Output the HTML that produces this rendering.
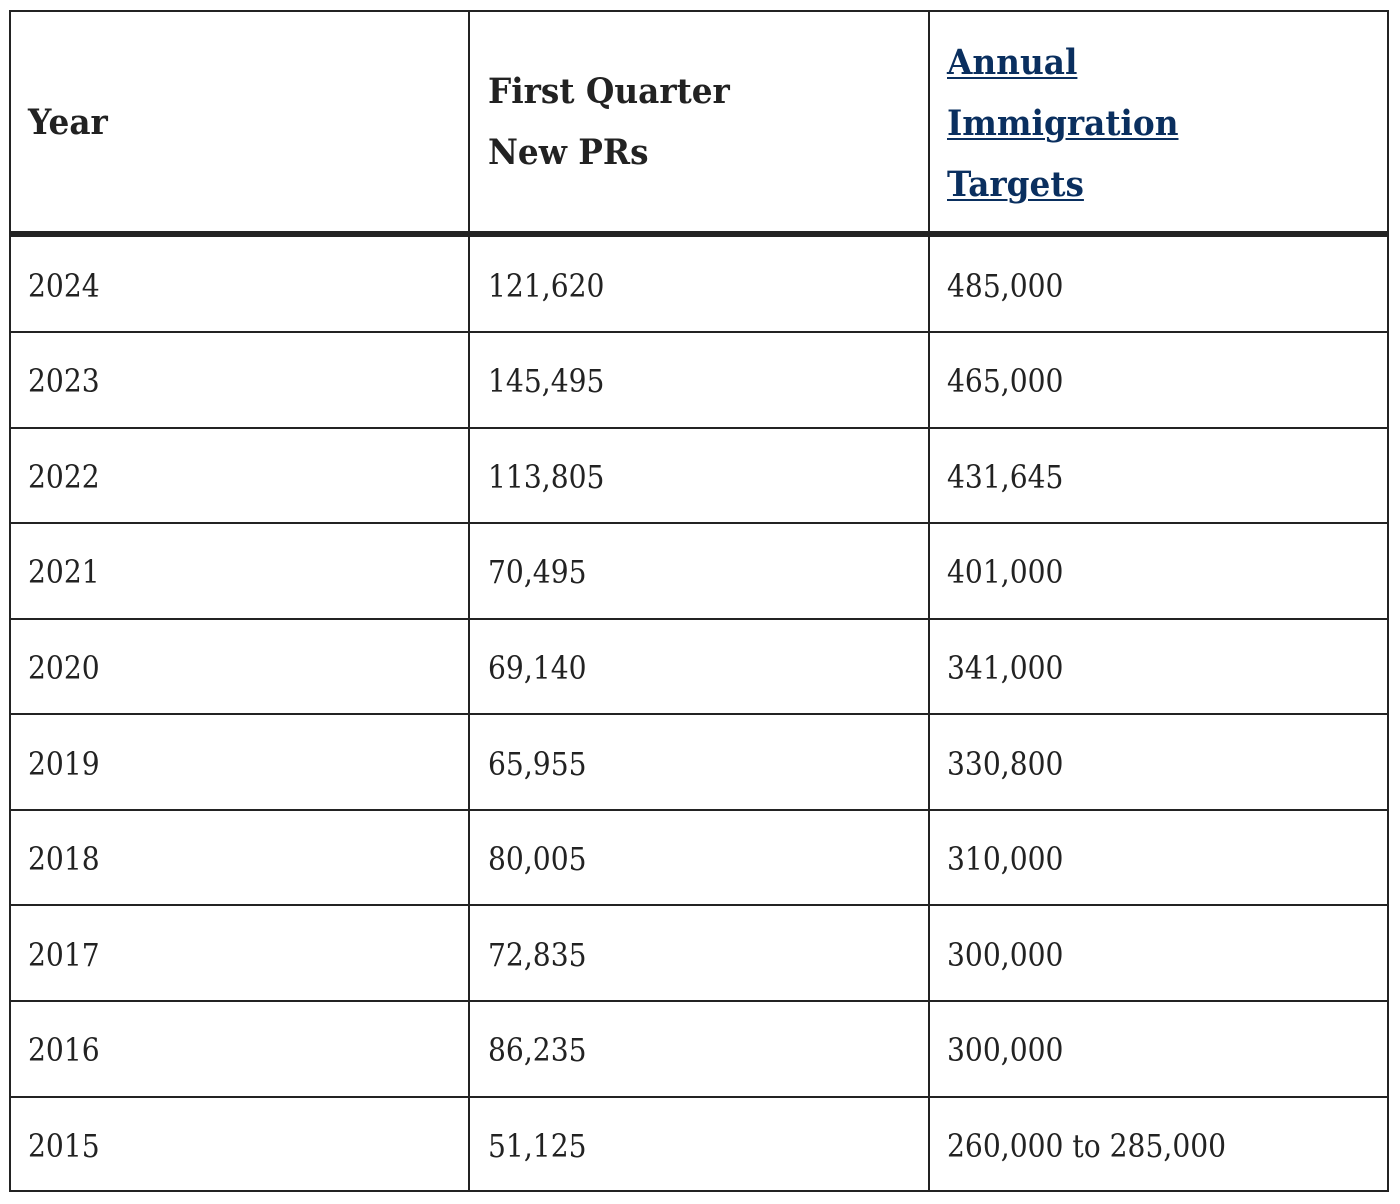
<!DOCTYPE html>
<html><head><meta charset="utf-8"><style>
html,body{margin:0;padding:0;background:#fff;}
body{width:1400px;height:1204px;position:relative;overflow:hidden;font-family:"DejaVu Serif","Liberation Serif",serif;color:#222;}
.l{position:absolute;background:#232323;}
.t{position:absolute;white-space:nowrap;font-size:32px;line-height:40px;transform:scaleX(0.88);transform-origin:0 0;}
.h{position:absolute;white-space:nowrap;font-size:35px;line-height:61px;font-weight:bold;transform:scaleX(0.935);transform-origin:0 0;}
.h a{color:#0a2f5f;text-decoration:underline;text-decoration-thickness:2px;text-underline-offset:3px;}
</style></head><body>
<!-- borders -->
<div class="l" style="left:9px;top:10px;width:1380px;height:2px"></div>
<div class="l" style="left:9px;top:1190px;width:1380px;height:2px"></div>
<div class="l" style="left:9px;top:10px;width:2px;height:1182px"></div>
<div class="l" style="left:1387px;top:10px;width:2px;height:1182px"></div>
<div class="l" style="left:468px;top:10px;width:2px;height:1182px"></div>
<div class="l" style="left:928px;top:10px;width:2px;height:1182px"></div>
<div class="l" style="left:9px;top:231px;width:1380px;height:6px"></div>
<div class="l" style="left:9px;top:331px;width:1380px;height:2px"></div>
<div class="l" style="left:9px;top:427px;width:1380px;height:2px"></div>
<div class="l" style="left:9px;top:522px;width:1380px;height:2px"></div>
<div class="l" style="left:9px;top:618px;width:1380px;height:2px"></div>
<div class="l" style="left:9px;top:713px;width:1380px;height:2px"></div>
<div class="l" style="left:9px;top:809px;width:1380px;height:2px"></div>
<div class="l" style="left:9px;top:904px;width:1380px;height:2px"></div>
<div class="l" style="left:9px;top:1000px;width:1380px;height:2px"></div>
<div class="l" style="left:9px;top:1096px;width:1380px;height:2px"></div>

<!-- header -->
<div class="h" style="left:28px;top:92px">Year</div>
<div class="h" style="left:488px;top:61px">First Quarter<br>New PRs</div>
<div class="h" style="left:947px;top:32px"><a>Annual</a><br><a>Immigration</a><br><a>Targets</a></div>

<!-- rows -->
<div class="t" style="left:28px;top:266px">2024</div><div class="t" style="left:488px;top:266px">121,620</div><div class="t" style="left:947px;top:266px">485,000</div>
<div class="t" style="left:28px;top:361px">2023</div><div class="t" style="left:488px;top:361px">145,495</div><div class="t" style="left:947px;top:361px">465,000</div>
<div class="t" style="left:28px;top:457px">2022</div><div class="t" style="left:488px;top:457px">113,805</div><div class="t" style="left:947px;top:457px">431,645</div>
<div class="t" style="left:28px;top:552px">2021</div><div class="t" style="left:488px;top:552px">70,495</div><div class="t" style="left:947px;top:552px">401,000</div>
<div class="t" style="left:28px;top:648px">2020</div><div class="t" style="left:488px;top:648px">69,140</div><div class="t" style="left:947px;top:648px">341,000</div>
<div class="t" style="left:28px;top:744px">2019</div><div class="t" style="left:488px;top:744px">65,955</div><div class="t" style="left:947px;top:744px">330,800</div>
<div class="t" style="left:28px;top:839px">2018</div><div class="t" style="left:488px;top:839px">80,005</div><div class="t" style="left:947px;top:839px">310,000</div>
<div class="t" style="left:28px;top:935px">2017</div><div class="t" style="left:488px;top:935px">72,835</div><div class="t" style="left:947px;top:935px">300,000</div>
<div class="t" style="left:28px;top:1030px">2016</div><div class="t" style="left:488px;top:1030px">86,235</div><div class="t" style="left:947px;top:1030px">300,000</div>
<div class="t" style="left:28px;top:1126px">2015</div><div class="t" style="left:488px;top:1126px">51,125</div><div class="t" style="left:947px;top:1126px">260,000 to 285,000</div>
</body></html>
